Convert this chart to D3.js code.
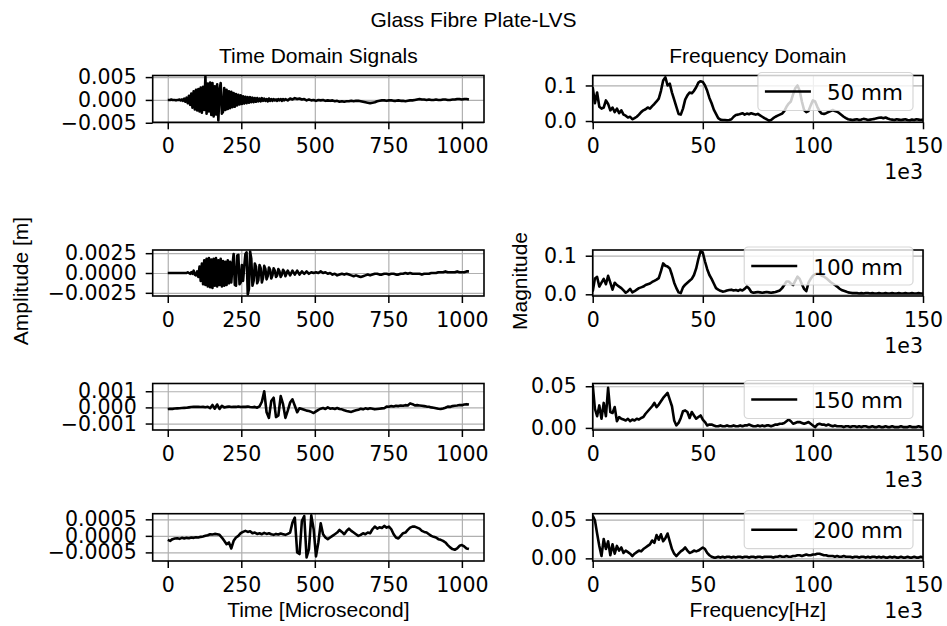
<!DOCTYPE html>
<html><head><meta charset="utf-8">
<script src="https://cdn.jsdelivr.net/npm/d3@7"></script>
<style>body{margin:0;background:#fff}svg{display:block}</style>
</head><body>
<svg id="c" width="947" height="626"></svg>
<script>
// ---------------- DATA ----------------
const figureTitle = "Glass Fibre Plate-LVS";
const leftTitle = "Time Domain Signals";
const rightTitle = "Frequency Domain";
const distances = ["50 mm", "100 mm", "150 mm", "200 mm"];
const timeTicks = [0, 250, 500, 750, 1000];          // microseconds
const freqTicks = [0, 50, 100, 150];                  // x 1e3 Hz
const ampTicks = [[0.005, 0, -0.005], [0.0025, 0, -0.0025], [0.001, 0, -0.001], [0.0005, 0, -0.0005]];
const magTicks = [[0, 0.1], [0, 0.1], [0, 0.05], [0, 0.05]];

// sample times (microseconds): 4 us steps over the burst, 8 us afterwards
const timesBurst = d3.range(0, 400, 4).concat(d3.range(400, 1025, 8));
const timesEven = d3.range(0, 1025, 8);
const freqStep = 1;      // kHz between spectrum samples

// displacement signals (units given in ampUnits)
const sig50 = [
  0,0,0,1,0,0,0,-1,0,0,  1,-1,1,-2,3,-4,5,-7,9,-11,
  14,-17,19,-21,22,-23,24,-25,27,-28,  29,-22,51,-30,36,-25,38,-33,37,-36,
  30,-32,34,-45,20,37,-30,-26,26,-22,  22,-20,19,-18,18,-16,15,-15,13,-12,
  11,-10,10,-9,8,-8,7,-7,6,-6,  6,-5,5,-5,4,-4,4,-3,3,-3,
  4,-2,3,-2,2,-3,3,-2,2,-2,  2,-1,1,-2,2,-1,2,-2,2,-1,
  2,-1,3,1,4,2,3,1,2,-1,1,-1,0,-2,
  0,-1,0,-2,-1,-2,-1,-3,-2,-4,-3,-4,-3,-3,-2,-3,
  -2,-2,-3,-4,-5,-6,-7,-6,-5,-3,-2,-1,-1,-2,-1,-1,
  -2,-2,-1,-2,-2,-3,-2,-1,-1,0,1,2,1,1,0,1,
  0,0,1,0,0,1,1,0,0,1,1,2,2,1,2,2,
  1];
const sig100 = [
  0,0,0,0,0,0,0,0,0,0,  0,0,0,0,0,0,0,1,0,-1,
  1,-1,3,-2,-3,2,-5,8,-10,12,  -14,16,-15,18,-17,19,-18,17,-19,18,
  -16,19,-17,16,-15,18,-17,15,-16,14,  -15,16,-13,14,-12,10,24,-15,-16,22,
  23,-14,-12,10,-10,8,24,26,-27,-20,  27,18,-16,-10,12,8,-13,-9,10,6,
  -12,-6,9,5,-8,-4,7,4,-7,-3,  6,3,-5,-3,5,2,-5,-2,4,2,
  -4,3,-3,3,-2,3,-2,2,-1,2,-1,1,0,1,
  0,2,0,1,-1,0,-2,-1,-3,-2,-1,-2,-1,-2,-3,-4,
  -3,-4,-5,-4,-3,-2,-3,-2,-1,-1,-2,-2,-1,-1,-2,-1,
  -1,-2,-2,-1,-1,0,-1,0,-1,-1,-1,-1,-2,-1,-1,-1,
  0,0,0,1,1,1,2,1,1,1,1,2,1,1,1,2,
  2];
const sig150 = [
  -10,-8,-9,-7,-6,-5,-4,-3,-2,0,2,3,4,3,2,3,
  1,4,-5,15,-8,18,-10,10,0,3,5,2,4,3,6,2,
  4,3,5,2,1,3,-2,6,35,100,-30,-65,40,60,-60,-50,
  70,20,-65,-20,30,50,10,-30,-5,-10,-15,-20,-22,-28,-35,-25,
  -15,-8,-4,-10,0,-8,-5,-10,-4,-10,-12,-18,-22,-25,-28,-22,
  -18,-15,-8,-12,-6,-10,-5,-8,-12,-10,-8,-6,-5,5,4,8,
  6,10,8,12,10,14,12,25,20,12,14,12,10,8,5,4,
  0,-2,-5,-8,-10,-7,-2,5,3,8,10,12,15,14,18,20,
  18];
const sig200 = [
  -12,-15,-10,-8,-7,-9,-6,-8,-6,-7,-5,-6,-4,-5,-3,-2,
  0,2,5,4,6,5,3,-5,-15,-25,-20,-38,-15,-5,0,8,
  12,15,12,14,8,10,6,8,5,9,6,8,5,3,6,4,
  7,5,3,6,10,40,55,-50,-55,45,60,-65,-40,62,20,-62,
  -20,38,5,-5,-10,-5,0,5,10,18,12,5,15,22,15,10,
  5,0,3,8,5,10,8,20,28,22,26,24,30,25,28,20,
  5,-5,-8,0,8,10,18,25,28,28,25,22,15,12,10,5,
  0,-3,-5,-10,-12,-15,-20,-28,-35,-40,-42,-38,-30,-28,-32,-38,
  -40];
const ampUnits = [1e-4, 1e-4, 1e-5, 1e-5];

// FFT magnitudes, units of 1e-3, 0..150 kHz
const spec50 = [
  95,50,80,40,35,38,58,48,30,38, 25,35,22,30,18,15,10,12,5,8,
  12,18,25,30,33,38,35,42,48,55, 63,85,114,123,100,105,80,60,40,20,
  18,35,60,72,80,78,85,95,108,112, 110,100,85,65,50,32,20,8,4,3,
  3,2,3,5,12,17,18,20,22,18, 21,19,22,20,18,20,16,12,8,5,
  1,3,8,12,15,18,21,28,40,49, 55,75,92,100,85,55,31,25,28,44,
  58,55,40,28,21,20,22,25,28,31, 28,26,22,17,12,8,5,4,3,4,
  5,3,4,6,5,3,4,5,6,8, 9,10,8,10,7,5,4,3,5,4,
  3,4,5,3,2,4,3,5,4,3,4];
const spec100 = [
  7,41,45,20,30,40,26,48,30,12, 30,24,20,16,10,4,8,14,5,8,
  12,16,18,20,24,26,28,32,35,38, 42,60,80,74,72,67,50,30,16,5,
  3,18,25,30,35,40,50,67,92,112, 108,85,65,50,40,28,16,12,9,7,
  8,10,11,12,10,11,9,12,10,14, 20,15,6,4,5,6,5,4,5,6,
  5,4,5,6,8,10,16,24,33,33, 28,24,35,46,40,26,14,8,30,40,
  48,52,54,53,48,46,42,37,32,28, 24,20,15,11,9,7,5,4,3,3,
  3,2,3,2,3,3,2,3,2,2, 3,2,2,3,2,2,3,2,2,3,
  2,2,3,2,2,3,2,2,3,2,2];
const spec150 = [
  52,23,14,27,11,30,14,48,19,18, 25,8,13,11,10,9,11,8,10,9,
  11,10,12,13,17,20,23,26,30,25, 28,32,36,39,42,34,26,9,3,6,
  12,20,21,19,12,19,15,11,13,15, 10,7,3,4,4,3,2,2,3,2,
  2,3,2,2,3,2,2,3,2,3, 3,4,3,2,2,3,2,3,2,3,
  3,2,3,4,4,5,5,6,8,10, 8,5,6,7,7,6,5,6,7,5,
  3,1,4,5,4,4,3,4,3,2, 3,2,2,2,1,2,2,1,2,2,
  1,2,1,2,2,1,1,2,1,1, 2,1,1,2,1,1,2,1,1,1,
  2,1,1,1,2,1,1,1,2,1,1];
const spec200 = [
  55,49,32,16,3,25,12,22,4,18, 6,16,10,14,7,10,8,6,3,6,
  8,10,9,12,14,16,18,23,20,30, 24,31,22,26,32,22,12,6,3,6,
  9,11,14,10,7,8,10,9,10,12, 14,12,7,4,2,1,1,2,1,2,
  1,2,2,1,2,1,2,2,1,2, 2,1,2,2,1,2,2,1,2,2,
  2,2,1,2,2,3,2,2,3,2, 2,3,3,4,4,3,4,5,4,4,
  5,5,6,6,5,4,4,3,3,3, 2,3,2,2,3,2,2,2,1,2,
  2,1,2,2,1,2,1,2,2,1, 2,1,2,1,1,2,1,2,1,1,
  2,1,1,2,1,1,2,1,1,2,1];
const magUnit = 1e-3;

const signals = [sig50, sig100, sig150, sig200];
const signalTimes = [timesBurst, timesBurst, timesEven, timesEven];
const spectra = [spec50, spec100, spec150, spec200];

// ---------------- LAYOUT ----------------
const W = 947, H = 626;
const leftX = [152.7, 484], rightX = [592.7, 923];
const rowsY = [[75.5, 122.3], [250, 296], [383.5, 430], [513.7, 561]];
const ampDomains = [[-0.0049, 0.00535], [-0.0029, 0.0029], [-0.0014, 0.00148], [-0.00076, 0.00067]];
const magDomains = [[-0.0036, 0.128], [-0.0044, 0.1148], [-0.0025, 0.0533], [-0.0034, 0.0575]];
const ampFormats = [".3f", ".4f", ".3f", ".4f"];
const magFormats = [".1f", ".1f", ".2f", ".2f"];

const tickFont = "'DejaVu Sans', sans-serif";
const textFont = "'Liberation Sans', Arial, sans-serif";
const tickSize = 20.5, legendSize = 21.5, textSize = 21;
const gridColor = "#b0b0b0";
const lineW = 2.6;

const svg = d3.select("#c");
svg.append("rect").attr("width", W).attr("height", H).attr("fill", "#fff");

function panel(idx, xr, yr, xDomain, yDomain, xTickVals, yTickVals, yFmt, values, xOf, unit, legendText, side) {
  const g = svg.append("g");
  const x = d3.scaleLinear().domain(xDomain).range(xr);
  const y = d3.scaleLinear().domain(yDomain).range([yr[1], yr[0]]);
  const clipId = "clip" + side + idx;
  svg.append("clipPath").attr("id", clipId).append("rect")
    .attr("x", xr[0]).attr("y", yr[0]).attr("width", xr[1] - xr[0]).attr("height", yr[1] - yr[0]);

  // grid
  const gx = g.append("g").attr("transform", `translate(0,${yr[1]})`)
    .call(d3.axisBottom(x).tickValues(xTickVals).tickSize(-(yr[1] - yr[0])).tickFormat(""));
  const gy = g.append("g").attr("transform", `translate(${xr[0]},0)`)
    .call(d3.axisLeft(y).tickValues(yTickVals).tickSize(-(xr[1] - xr[0])).tickFormat(""));
  [gx, gy].forEach(a => {
    a.select(".domain").remove();
    a.selectAll("line").attr("stroke", gridColor).attr("stroke-width", 1.2);
  });

  // data line
  const line = d3.line().x((d, i) => x(xOf(i))).y(d => y(d * unit));
  g.append("path").datum(values).attr("clip-path", `url(#${clipId})`)
    .attr("d", line).attr("fill", "none").attr("stroke", "#000")
    .attr("stroke-width", lineW).attr("stroke-linejoin", "round");

  // frame
  g.append("rect").attr("x", xr[0]).attr("y", yr[0])
    .attr("width", xr[1] - xr[0]).attr("height", yr[1] - yr[0])
    .attr("fill", "none").attr("stroke", "#000").attr("stroke-width", 1.6);

  // axes
  const ax = g.append("g").attr("transform", `translate(0,${yr[1]})`)
    .call(d3.axisBottom(x).tickValues(xTickVals).tickSize(7).tickPadding(9.5)
      .tickFormat(side === "R" ? (d => d3.format("d")(d / 1000)) : d3.format("d")));
  const ay = g.append("g").attr("transform", `translate(${xr[0]},0)`)
    .call(d3.axisLeft(y).tickValues(yTickVals).tickSize(7).tickPadding(9).tickFormat(d3.format(yFmt)));
  [ax, ay].forEach(a => {
    a.select(".domain").remove();
    a.selectAll("line").attr("stroke", "#000").attr("stroke-width", 1.5);
    a.selectAll("text").attr("font-family", tickFont).attr("font-size", tickSize).attr("fill", "#000");
  });

  if (side === "R") {
    g.append("text").attr("x", xr[1]).attr("y", yr[1] + 57).attr("text-anchor", "end")
      .attr("font-family", tickFont).attr("font-size", tickSize).text("1e3");
    // legend
    const lg = g.append("g");
    const txt = lg.append("text").attr("font-family", tickFont).attr("font-size", legendSize)
      .attr("dominant-baseline", "central").text(legendText);
    const tw = txt.node().getComputedTextLength();
    const boxR = xr[1] - 10, boxT = yr[0] - 3, boxH = 38;
    const boxW = 7 + 46 + 16 + tw + 10;
    const boxL = boxR - boxW;
    lg.insert("rect", "text").attr("x", boxL).attr("y", boxT).attr("width", boxW).attr("height", boxH)
      .attr("rx", 4).attr("fill", "#fff").attr("fill-opacity", 0.8)
      .attr("stroke", "#cccccc").attr("stroke-opacity", 0.8).attr("stroke-width", 1.2);
    lg.insert("line", "text").attr("x1", boxL + 7).attr("x2", boxL + 53)
      .attr("y1", boxT + boxH / 2).attr("y2", boxT + boxH / 2)
      .attr("stroke", "#000").attr("stroke-width", lineW);
    txt.attr("x", boxL + 69).attr("y", boxT + boxH / 2 + 1);
  }
}

for (let r = 0; r < 4; r++) {
  const sig = signals[r], ts = signalTimes[r];
  const tEnd = ts[ts.length - 1];
  panel(r, leftX, rowsY[r], [-0.05 * tEnd, 1.05 * tEnd],
    ampDomains[r], timeTicks, ampTicks[r], ampFormats[r], sig, i => ts[i], ampUnits[r], null, "L");
  panel(r, rightX, rowsY[r], [0, 150000], magDomains[r], freqTicks.map(d => d * 1000),
    magTicks[r], magFormats[r], spectra[r], i => i * freqStep * 1000, magUnit, distances[r], "R");
}

// titles
function txt(x, y, s, opts = {}) {
  const t = svg.append("text").attr("x", x).attr("y", y).attr("text-anchor", "middle")
    .attr("font-family", textFont).attr("font-size", opts.size || textSize).attr("fill", "#000").text(s);
  if (opts.rotate) t.attr("transform", `rotate(-90,${x},${y})`);
  return t;
}
const yLabelCenter = 281;
txt(473.5, 27, figureTitle);
txt((leftX[0] + leftX[1]) / 2, 63, leftTitle);
txt((rightX[0] + rightX[1]) / 2, 63, rightTitle);
txt((leftX[0] + leftX[1]) / 2, 617, "Time [Microsecond]");
txt((rightX[0] + rightX[1]) / 2, 617, "Frequency[Hz]");
txt(28, yLabelCenter, "Amplitude [m]", { rotate: true });
txt(527, yLabelCenter, "Magnitude", { rotate: true });
</script>
</body></html>
